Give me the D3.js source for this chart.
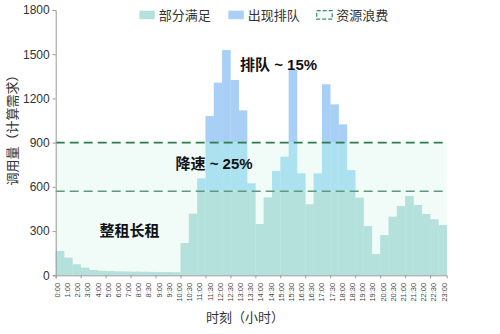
<!DOCTYPE html>
<html><head><meta charset="utf-8">
<script src="https://cdn.jsdelivr.net/npm/d3@7"></script>
<style>
html,body{margin:0;padding:0;background:#fff;}
svg{display:block;}
</style></head>
<body>
<svg id="c" width="500" height="334"></svg>
<script>
// ---- data ----
const timeLabels = ["0:00","1:00","2:00","3:00","4:00","5:00","6:00","7:00","8:00",
  "8:30","9:00","9:30","10:00","10:30","11:00","11:30","12:00","12:30","13:00","13:30",
  "14:00","14:30","15:00","15:30","16:00","16:30","17:00","17:30","18:00","18:30",
  "19:00","19:30","20:00","20:30","21:00","21:30","22:00","22:30","23:00"];
const demand = [165,120,75,52,36,31,29,27,26,25,24,23,22,22,21,
  219,418,658,1081,1307,1528,1325,1119,624,348,529,708,805,1393,692,482,692,
  1296,1160,1024,714,527,334,144,273,398,470,538,477,416,380,341];
const baseLevel = 570;   // 整租长租 / 部分满足 threshold
const capLevel = 900;    // capacity line
const yTicks = [0,300,600,900,1200,1500,1800];
const legendItems = ["部分满足","出现排队","资源浪费"];

// ---- layout ----
const svg = d3.select("#c");
const L = 55.7, R = 446.7, T = 10, B = 275.3;
const CN = "'Noto Sans CJK SC','Noto Sans',sans-serif";
const MIX = "'Liberation Sans','Noto Sans CJK SC',sans-serif";
const NUM = "'Liberation Sans',Arial,sans-serif";
const colTeal = "#b5e1dd", colCyan = "#ace2f0", colBlue = "#a8d0f6", colBand = "#f1fbf8";

const x = d3.scaleBand().domain(d3.range(demand.length)).range([L, R]).padding(0);
const xt = d3.scaleLinear().domain([0, demand.length]).range([L, R]);
const xl = d3.scalePoint().domain(timeLabels).range([57.3, 444]);
const y = d3.scaleLinear().domain([0, 1800]).range([B, T]);

// waste band
svg.append("rect").attr("x", L).attr("y", y(capLevel)).attr("width", R - L)
  .attr("height", y(0) - y(capLevel)).attr("fill", colBand);

// bars in three layers
const g = svg.append("g");
demand.forEach((v, i) => {
  const segs = [
    [0, Math.min(v, baseLevel), colTeal],
    [baseLevel, Math.min(v, capLevel), colCyan],
    [capLevel, v, colBlue]
  ];
  segs.forEach(([a, b, c]) => {
    if (b > a) {
      g.append("rect").attr("x", x(i)).attr("width", x.bandwidth() + 0.3)
        .attr("y", y(b)).attr("height", y(a) - y(b)).attr("fill", c);
    }
  });
});

// dashed lines
svg.append("line").attr("x1", L).attr("x2", R).attr("y1", y(capLevel)).attr("y2", y(capLevel))
  .attr("stroke", "#2f7a4f").attr("stroke-width", 1.8).attr("stroke-dasharray", "9,5");
svg.append("line").attr("x1", L).attr("x2", R).attr("y1", y(baseLevel)).attr("y2", y(baseLevel))
  .attr("stroke", "#5e9a7b").attr("stroke-width", 1.5).attr("stroke-dasharray", "9,5");

// y axis
const ya = svg.append("g").attr("transform", `translate(${L},0)`)
  .call(d3.axisLeft(y).tickValues(yTicks).tickFormat(d3.format("d")).tickSize(3).tickPadding(3));
ya.select(".domain").attr("stroke", "#999");
ya.selectAll(".tick line").attr("stroke", "#999");
ya.selectAll("text").attr("font-family", NUM).attr("font-size", 12).attr("fill", "#333");

// x axis ticks
const xa = svg.append("g").attr("transform", `translate(0,${B})`)
  .call(d3.axisBottom(xt).tickValues(d3.range(0, demand.length, 3)).tickSize(3).tickFormat(""));
xa.select(".domain").attr("stroke", "#999");
xa.selectAll(".tick line").attr("stroke", "#999");

// x labels
svg.append("g").selectAll("text").data(timeLabels).join("text")
  .attr("transform", d => `translate(${xl(d) + 2.6},${B + 7.5}) rotate(-90)`)
  .attr("text-anchor", "end").attr("font-family", NUM).attr("font-size", 7.5)
  .attr("fill", "#444").text(d => d);

// axis titles
svg.append("text").attr("x", 245).attr("y", 322).attr("text-anchor", "middle")
  .attr("font-family", CN).attr("font-size", 13).attr("fill", "#333").text("时刻（小时）");
svg.append("text").attr("transform", "translate(17,127) rotate(-90)").attr("text-anchor", "middle")
  .attr("font-family", CN).attr("font-size", 13).attr("fill", "#333").text("调用量（计算需求）");

// legend
const lg = svg.append("g");
const lx = [139.3, 228.3, 316.7];
const fills = [colTeal, colBlue, colBand];
legendItems.forEach((t, i) => {
  const r = lg.append("rect").attr("x", lx[i]).attr("y", 10.7).attr("width", 15.5).attr("height", 8.5)
    .attr("fill", fills[i]);
  if (i === 2) r.attr("stroke", "#3f8a60").attr("stroke-width", 1.2).attr("stroke-dasharray", "4,2");
  lg.append("text").attr("x", lx[i] + 19.5).attr("y", 19.5).attr("font-family", CN)
    .attr("font-size", 13).attr("fill", "#333").text(t);
});

// annotations
const ann = [["排队 ~ 15%", 240, 69.5], ["降速 ~ 25%", 175.5, 169], ["整租长租", 99.5, 236]];
ann.forEach(([t, ax, ay], i) => {
  svg.append("text").attr("x", ax).attr("y", ay).attr("font-family", MIX)
    .attr("font-weight", "bold").attr("font-size", 15).attr("fill", "#111").text(t);
});
</script>
</body></html>
